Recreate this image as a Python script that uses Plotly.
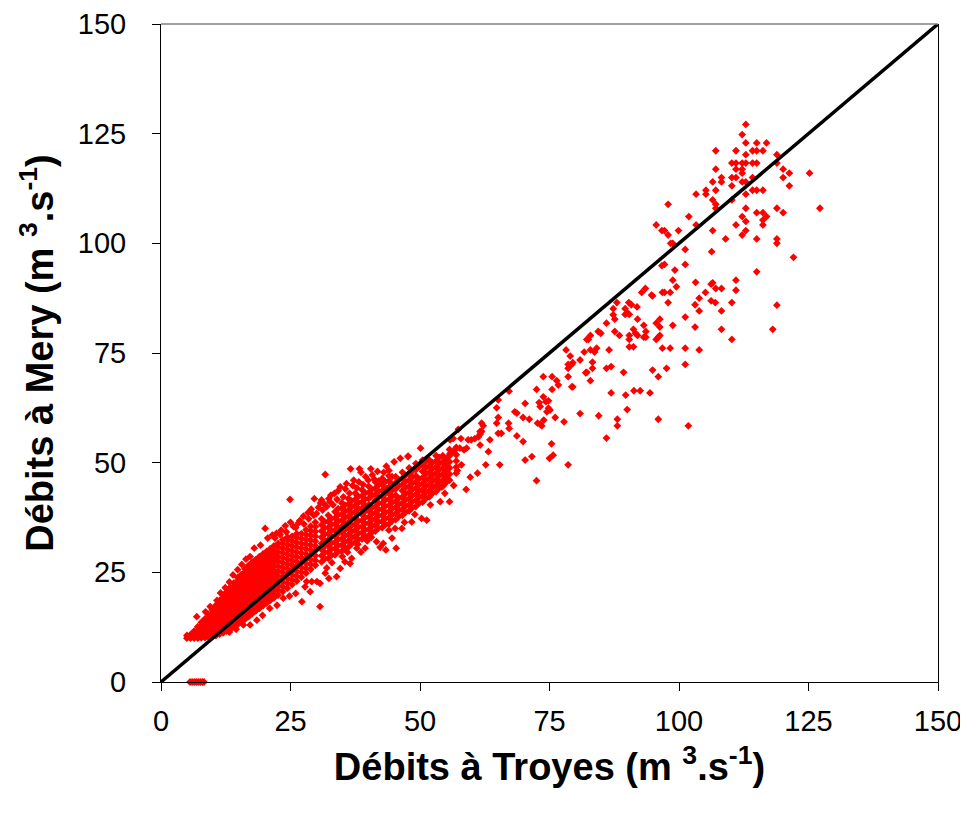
import plotly.graph_objects as go

# ---- data (m3/s) : (Troyes, Mery) ----
high_flows = [
    (112.9,127.1),(112.2,124.8),(112.9,122.9),(115.0,122.9),(116.9,122.9),(107.1,121.1),(111.0,121.1),
    (114.2,121.1),(115.0,121.1),(116.2,121.1),(118.9,120.2),(112.9,120.2),(110.2,118.3),(111.0,118.3),
    (112.2,118.3),(112.9,118.3),(114.2,118.3),(115.0,118.3),(118.9,118.3),(107.1,116.9),(111.0,116.9),
    (112.2,116.9),(120.1,116.9),(121.3,116.0),(125.2,116.0),(112.2,116.0),(108.2,115.0),(110.2,115.0),
    (111.0,115.0),(114.2,115.0),(120.1,115.0),(106.5,114.0),(108.2,114.0),(112.2,114.0),(112.9,114.0),
    (110.2,113.1),(121.3,113.1),(105.2,112.1),(107.1,112.1),(114.2,112.1),(115.0,112.1),(116.2,112.1),
    (103.3,111.2),(105.2,111.2),(112.9,111.2),(106.5,109.9),(110.2,109.9),(97.9,108.9),(107.1,108.9),
    (107.1,108.0),(112.9,108.0),(118.9,108.0),(127.2,108.0),(115.0,107.0),(116.2,107.0),(120.1,107.0),
    (116.9,106.1),(116.2,105.3),(116.2,104.2),(112.2,106.1),(101.9,106.1),(112.9,105.0),(95.6,104.2),
    (103.3,104.2),(111.0,104.2),(96.7,102.9),(97.2,102.9),(99.9,102.9),(106.5,102.9),(112.9,102.9),
    (97.9,101.9),(112.2,101.9),(109.0,101.0),(115.0,101.0),(118.9,101.0),(118.9,100.0),(98.4,100.0),
    (98.8,100.0),(101.2,98.6),(106.3,98.1),(122.1,96.8),(96.7,94.9),(97.2,95.2),(101.2,95.2),(99.2,93.9),
    (115.0,93.5),(98.8,91.6),(99.5,90.1),(103.2,91.1),(106.5,91.0),(107.1,89.7),(108.2,89.7),(111.0,91.6),
    (111.0,89.3),(93.5,89.7),(118.9,85.9),(118.1,80.4),
]

upper_mid_flows = [
    (106.2,90.7),(92.8,88.8),(94.7,88.2),(94.9,88.0),(96.8,88.8),(97.2,88.8),(98.3,88.8),(105.1,88.8),
    (103.9,87.5),(106.2,86.9),(107.0,86.5),(97.9,86.5),(103.1,86.0),(110.2,86.5),(88.0,86.5),(90.3,86.5),
    (90.8,86.0),(91.9,85.5),(87.3,85.1),(89.6,85.1),(90.0,84.2),(90.4,83.8),(89.6,83.8),(87.3,83.7),
    (87.6,82.7),(103.9,84.6),(108.2,84.6),(92.0,82.7),(86.0,81.8),(96.3,82.7),(95.6,81.8),(96.3,80.9),
    (93.2,81.3),(93.6,79.9),(98.8,81.3),(101.2,83.2),(103.1,80.9),(108.2,80.4),(110.2,78.1),(87.6,79.9),
    (88.5,79.0),(91.2,80.4),(91.6,79.5),(92.0,79.0),(90.4,79.0),(90.4,78.1),(90.4,76.4),(91.2,76.4),
    (93.2,78.6),(93.6,78.6),(95.6,78.1),(96.0,78.6),(96.3,79.0),(96.8,76.1),(98.3,76.1),(101.2,76.1),
    (103.9,75.7),(84.4,79.9),(84.9,79.5),(82.5,78.1),(82.9,79.0),(82.2,78.1),(86.5,75.7),(81.7,75.2),
    (82.9,75.7),(83.7,75.2),(84.1,76.1),(78.2,75.7),(79.0,74.3),(80.9,73.4),(83.3,72.9),(83.3,71.5),
    (78.6,72.4),(79.3,72.4),(78.6,71.5),(86.0,71.5),(86.9,71.9),(82.2,70.6),(89.3,70.6),(78.6,69.6),
    (82.9,68.7),(94.9,71.1),(97.6,71.5),(96.0,69.6),(101.2,72.4),(79.3,67.3),(86.9,65.9),(89.7,65.4),
    (91.3,66.4),(92.5,66.4),(94.4,65.9),(90.0,62.1),(80.9,61.2),(84.5,60.7),(77.8,59.3),(88.1,59.9),
    (88.1,58.4),(96.0,59.9),(101.8,58.4),(86.0,55.6),(78.6,49.5),
]

mid_flows = [
    (79.0,72.3),(79.5,72.8),(73.8,69.6),(75.5,69.6),(82.0,70.5),(76.4,68.7),(76.7,67.7),(75.5,66.7),
    (79.5,67.3),(72.5,66.7),(67.2,66.3),(73.8,65.0),(73.0,63.7),(73.2,62.8),(74.3,63.9),(74.8,62.4),
    (74.5,61.6),(75.1,62.0),(74.8,64.1),(70.3,63.5),(64.8,62.5),(65.1,64.3),(68.3,61.6),(68.7,61.3),
    (69.9,60.3),(71.1,59.9),(65.1,60.3),(64.8,59.0),(76.1,60.3),(73.9,59.7),(73.2,58.8),(72.7,59.0),
    (73.5,58.4),(67.1,59.0),(67.2,57.8),(61.9,59.0),(62.2,58.4),(65.1,56.7),(65.7,56.7),(68.7,56.1),
    (61.6,57.1),(61.3,55.9),(60.6,55.5),(59.9,55.2),(59.3,55.2),(63.5,55.2),(57.9,55.5),(56.4,55.5),
    (55.8,55.2),(57.4,57.6),(61.6,54.0),(69.9,54.8),(75.4,54.3),(75.7,51.7),(75.0,51.0),(63.2,52.5),
    (71.6,51.4),(70.3,50.6),(65.4,49.5),(62.7,49.5),(59.0,53.3),(58.5,52.9),(57.7,53.3),(57.0,53.5),
    (56.4,52.5),(55.8,52.1),(55.5,51.4),(55.2,50.6),(58.0,49.5),(57.2,48.2),(61.1,47.6),(59.7,46.7),
    (58.9,43.9),(72.5,45.9),(50.1,53.3),(47.7,51.4),(61.9,57.1),(61.6,56.5),
]

# dense band of low flows, read column by column: (Troyes, [Mery values])
low_flow_columns = [
    (5.0, [10.0, 10.6]),
    (5.7, [10.0, 10.8]),
    (6.4, [10.0, 10.9, 11.6]),
    (7.1, [10.0, 10.9, 11.8, 12.6]),
    (7.8, [10.1, 11.0, 11.9, 12.8, 13.6]),
    (8.5, [10.1, 11.0, 11.9, 12.8, 13.7, 14.4]),
    (9.2, [10.2, 11.1, 12.0, 12.9, 13.8, 14.7, 15.3]),
    (9.9, [10.4, 11.3, 12.2, 13.1, 14.0, 14.9, 15.8, 16.4]),
    (10.6, [10.6, 11.5, 12.4, 13.3, 14.2, 15.1, 16.0, 16.9, 17.5]),
    (11.3, [10.9, 11.8, 12.7, 13.6, 14.5, 15.4, 16.3, 17.2, 18.1, 18.6]),
    (12.0, [11.2, 12.1, 13.0, 13.9, 14.8, 15.7, 16.6, 17.5, 18.4, 19.3, 19.8]),
    (12.7, [11.6, 12.5, 13.4, 14.3, 15.2, 16.1, 17.0, 17.9, 18.8, 19.7, 20.6]),
    (13.4, [12.0, 12.9, 13.8, 14.7, 15.6, 16.5, 17.4, 18.3, 19.2, 20.1, 21.0, 21.6]),
    (14.1, [12.6, 13.5, 14.4, 15.3, 16.2, 17.1, 18.0, 18.9, 19.8, 20.7, 21.6, 22.6]),
    (14.8, [13.1, 14.0, 14.9, 15.8, 16.7, 17.6, 18.5, 19.4, 20.3, 21.2, 22.1, 23.0, 23.8]),
    (15.5, [13.7, 14.6, 15.5, 16.4, 17.3, 18.2, 19.1, 20.0, 20.9, 21.8, 22.7, 23.6, 24.5]),
    (16.2, [14.3, 15.2, 16.1, 17.0, 17.9, 18.8, 19.7, 20.6, 21.5, 22.4, 23.3, 24.2, 25.1, 25.8]),
    (16.9, [14.9, 15.8, 16.7, 17.6, 18.5, 19.4, 20.3, 21.2, 22.1, 23.0, 23.9, 24.8, 25.7, 26.6]),
    (17.6, [15.6, 16.5, 17.4, 18.3, 19.2, 20.1, 21.0, 21.9, 22.8, 23.7, 24.6, 25.5, 26.4, 27.3]),
    (18.3, [16.2, 17.1, 18.0, 18.9, 19.8, 20.7, 21.6, 22.5, 23.4, 24.3, 25.2, 26.1, 27.0, 27.9]),
    (19.0, [16.8, 17.7, 18.6, 19.5, 20.4, 21.3, 22.2, 23.1, 24.0, 24.9, 25.8, 26.7, 27.6, 28.6]),
    (19.7, [17.4, 18.3, 19.2, 20.1, 21.0, 21.9, 22.8, 23.7, 24.6, 25.5, 26.4, 27.3, 28.2, 29.2]),
    (20.4, [18.0, 18.9, 19.8, 20.7, 21.6, 22.5, 23.4, 24.3, 25.2, 26.1, 27.0, 27.9, 28.8, 29.8]),
    (21.1, [18.6, 19.5, 20.4, 21.3, 22.2, 23.1, 24.0, 24.9, 25.8, 26.7, 27.6, 28.5, 29.4, 30.4]),
    (21.8, [19.2, 20.1, 21.0, 21.9, 22.8, 23.7, 24.6, 25.5, 26.4, 27.3, 28.2, 29.1, 30.0, 31.0]),
    (22.6, [19.8, 20.9, 22.0, 23.1, 24.2, 25.3, 26.4, 27.5, 28.6, 29.7, 30.8, 31.6]),
    (23.5, [20.6, 21.7, 22.8, 23.9, 25.0, 26.1, 27.2, 28.3, 29.4, 30.5, 31.6, 32.4]),
    (24.4, [21.4, 22.5, 23.6, 24.7, 25.8, 26.9, 28.0, 29.1, 30.2, 31.3, 32.4, 33.0]),
    (25.3, [22.2, 23.3, 24.4, 25.5, 26.6, 27.7, 28.8, 29.9, 31.0, 32.1, 33.2]),
    (26.2, [23.0, 24.1, 25.2, 26.3, 27.4, 28.5, 29.6, 30.7, 31.8, 32.9, 33.8]),
    (27.1, [23.9, 25.0, 26.1, 27.2, 28.3, 29.4, 30.5, 31.6, 32.7, 33.8]),
    (28.0, [24.8, 25.9, 27.0, 28.1, 29.2, 30.3, 31.4, 32.5, 33.6, 34.7]),
    (28.9, [25.7, 26.8, 27.9, 29.0, 30.1, 31.2, 32.3, 33.4, 34.5, 35.5]),
    (29.8, [26.6, 27.7, 28.8, 29.9, 31.0, 32.1, 33.2, 34.3, 35.4, 36.4]),
    (31.0, [27.4, 28.8, 30.2, 31.6, 33.0, 34.4, 35.8, 37.2]),
    (31.6, [28.1, 29.5, 30.9, 32.3, 33.7, 35.1, 36.5]),
    (32.3, [28.2, 29.6, 31.0, 32.4, 33.8, 35.2, 36.6, 38.0]),
    (32.9, [28.9, 30.3, 31.7, 33.1, 34.5, 35.9, 37.3]),
    (33.6, [29.0, 30.4, 31.8, 33.2, 34.6, 36.0, 37.4, 38.8]),
    (34.2, [29.7, 31.1, 32.5, 33.9, 35.3, 36.7, 38.1, 39.5]),
    (34.9, [29.8, 31.2, 32.6, 34.0, 35.4, 36.8, 38.2, 39.6, 40.8]),
    (35.5, [30.5, 31.9, 33.3, 34.7, 36.1, 37.5, 38.9, 40.3]),
    (36.2, [30.8, 32.2, 33.6, 35.0, 36.4, 37.8, 39.2, 40.6, 41.8]),
    (36.8, [31.5, 32.9, 34.3, 35.7, 37.1, 38.5, 39.9, 41.3]),
    (37.5, [31.8, 33.2, 34.6, 36.0, 37.4, 38.8, 40.2, 41.6, 43.0]),
    (38.1, [32.5, 33.9, 35.3, 36.7, 39.5, 40.9, 42.3]),
    (38.8, [32.6, 34.0, 35.4, 36.8, 38.2, 39.6, 41.0, 42.4, 43.8]),
    (39.4, [33.3, 34.7, 36.1, 37.5, 38.9, 40.3, 41.7, 43.1]),
    (40.1, [33.4, 34.8, 36.2, 37.6, 39.0, 40.4, 41.8, 43.2, 44.6]),
    (40.7, [34.1, 35.5, 36.9, 38.3, 39.7, 42.5, 43.9]),
    (41.4, [34.4, 35.8, 37.2, 38.6, 40.0, 41.4, 42.8, 44.2, 45.6]),
    (42.0, [35.1, 36.5, 37.9, 39.3, 40.7, 42.1, 43.5, 44.9]),
    (42.7, [35.2, 36.6, 38.0, 39.4, 40.8, 42.2, 43.6, 45.0, 46.4]),
    (43.3, [35.9, 37.3, 38.7, 40.1, 41.5, 42.9, 44.3, 45.7]),
    (44.0, [36.0, 37.4, 38.8, 40.2, 41.6, 43.0, 44.4, 45.8, 47.0]),
    (44.6, [36.7, 38.1, 39.5, 40.9, 42.3, 43.7, 45.1]),
    (45.3, [37.0, 38.4, 39.8, 41.2, 42.6, 44.0, 45.4, 46.8]),
    (45.9, [37.7, 39.1, 40.5, 41.9, 44.7, 46.1]),
    (46.6, [38.0, 39.4, 40.8, 42.2, 43.6, 45.0, 46.4, 47.8]),
    (47.2, [38.7, 40.1, 41.5, 42.9, 44.3, 45.7, 47.1]),
    (47.9, [39.0, 40.4, 41.8, 43.2, 44.6, 46.0, 47.4, 48.8]),
    (48.5, [39.7, 41.1, 42.5, 43.9, 45.3, 46.7, 48.1]),
    (49.2, [40.0, 41.4, 42.8, 44.2, 45.6, 47.0, 48.4, 49.8]),
    (49.8, [40.7, 42.1, 43.5, 44.9, 46.3, 49.1]),
    (50.5, [41.0, 42.4, 43.8, 45.2, 46.6, 48.0, 49.4, 50.6]),
    (51.1, [41.8, 43.2, 44.6, 46.0, 47.4, 48.8, 50.2]),
    (51.8, [42.2, 43.6, 45.0, 46.4, 47.8, 49.2, 50.6]),
    (52.4, [43.0, 44.4, 45.8, 47.2, 48.6, 50.0]),
    (53.1, [43.4, 44.8, 46.2, 47.6, 49.0, 50.4, 51.6]),
    (53.7, [44.2, 45.6, 47.0, 48.4, 49.8, 51.2]),
    (54.4, [44.6, 46.0, 47.4, 48.8, 50.2, 51.6]),
    (55.0, [45.4, 46.8, 48.2, 49.6, 51.0]),
    (55.7, [46.0, 47.4, 48.8, 50.2, 51.6, 53.0]),
    (57.0, [47.6, 49.0, 50.4, 51.8, 53.2]),
]

band_fringe = [
    (6.9,14.9),(8.6,16.0),(9.5,17.2),(10.8,18.6),(11.5,20.3),(12.4,21.5),(13.2,22.8),(13.9,24.4),
    (14.8,25.6),(15.6,26.8),(16.4,28.0),(17.2,28.6),(18.0,30.5),(19.2,31.2),(20.1,35.0),(20.6,32.8),
    (21.5,33.5),(22.3,33.9),(23.2,34.6),(24.0,35.6),(25.6,35.4),(24.9,41.6),(26.5,36.2),(27.5,37.8),
    (28.4,38.6),(29.5,38.0),(30.4,39.8),(31.5,40.6),(32.4,41.8),(31.7,47.3),(33.5,43.0),(34.6,44.5),
    (35.8,45.2),(36.6,48.6),(38.3,48.6),(38.6,47.8),(40.5,48.6),(37.2,46.0),(39.5,46.8),(41.8,48.0),
    (43.5,49.2),(45.0,50.2),(47.7,51.5),(46.2,51.0),
    (22.0,32.8),(23.0,33.6),(24.2,34.2),(25.0,36.4),(26.0,35.2),(26.8,36.8),(27.6,36.0),(28.5,37.2),
    (29.0,39.4),(30.0,38.4),(30.8,40.8),(31.2,39.2),(32.0,40.0),(32.8,42.6),(33.2,40.4),(34.0,41.6),
    (34.2,43.6),(35.2,42.2),(35.6,44.0),(36.4,43.0),(37.0,44.8),(37.8,44.2),(38.2,45.6),(39.0,45.0),
    (40.0,46.0),(40.8,47.2),(41.2,46.2),(42.0,45.8),(43.0,47.8),(44.0,48.2),(44.6,46.8),(29.6,41.8),
    (28.8,38.8),(32.6,41.1),(31.0,41.5),
    (13.2,11.4),(14.5,12.0),(15.9,13.0),(17.2,13.0),(18.5,14.1),(19.6,15.2),(21.0,16.8),(22.4,17.5),
    (23.6,19.1),(24.8,19.6),(26.0,20.2),(27.2,18.3),(27.8,21.7),(28.8,20.6),(28.1,22.9),(29.1,22.9),
    (30.1,22.9),(30.7,17.2),(30.7,22.5),(31.7,24.8),(32.4,23.6),(33.9,24.0),(34.6,25.9),(35.5,27.4),
    (36.8,28.2),(37.8,30.5),(39.4,30.5),(41.6,32.0),(42.3,30.7),(42.9,31.6),(43.4,30.1),(45.2,35.0),
    (45.4,30.5),(46.5,35.0),(48.4,36.5),(50.3,37.3),(51.3,36.9),(53.9,41.1),(54.8,43.0),(55.7,41.1),
    (54.2,44.5),(52.4,47.2),
    (32.0,26.0),(33.0,27.2),(35.0,28.6),(36.0,29.6),(38.0,31.4),(39.8,32.2),(40.6,33.0),(44.0,34.6),
    (47.0,36.4),(49.0,38.2),(52.0,40.4),(56.5,44.8),(44.6,32.8),(36.5,27.0),(38.6,29.6),
]

zero_flows_troyes = [5.6, 6.0, 6.4, 6.8, 7.2, 7.6, 8.0, 8.3]
zero_flows_mery = [0, 0, 0, 0, 0, 0, 0, 0]

axis_ticks = [0, 25, 50, 75, 100, 125, 150]
identity_line = [0, 150]

# ---- assemble ----
troyes, mery = [], []
for pts in (high_flows, upper_mid_flows, mid_flows, band_fringe):
    for xv, yv in pts:
        troyes.append(xv)
        mery.append(yv)
for xv, ys in low_flow_columns:
    for yv in ys:
        troyes.append(xv)
        mery.append(yv)
troyes += zero_flows_troyes
mery += zero_flows_mery

FONT = "Arial, 'Liberation Sans', Helvetica, sans-serif"

fig = go.Figure()
fig.add_trace(go.Scatter(
    x=troyes, y=mery, mode="markers",
    marker=dict(symbol="diamond", size=6, color="#FF0000", line=dict(width=0)),
    cliponaxis=False, showlegend=False, hoverinfo="x+y",
))
fig.add_trace(go.Scatter(
    x=identity_line, y=identity_line, mode="lines",
    line=dict(color="black", width=3.5), cliponaxis=False,
    showlegend=False, hoverinfo="skip",
))

axis_common = dict(
    range=[0, 150], tickvals=axis_ticks, ticktext=[str(t) for t in axis_ticks],
    showgrid=False, zeroline=False, showline=True, linecolor="black", linewidth=1,
    ticks="outside", ticklen=8, tickwidth=1, tickcolor="black", automargin=False,
    tickfont=dict(family=FONT, size=29, color="black"),
)
fig.update_xaxes(**axis_common, ticklabelstandoff=5,
                 title=dict(text="<b>Débits à Troyes (m <sup>3</sup>.s<sup>-1</sup>)</b>",
                            font=dict(family=FONT, size=38, color="black"), standoff=17))
fig.update_yaxes(**axis_common, mirror=True, ticklabelstandoff=20,
                 title=dict(text="<b>Débits à Mery (m <sup>3</sup>.s<sup>-1</sup>)</b>",
                            font=dict(family=FONT, size=38, color="black"), standoff=12))

fig.add_shape(type="line", xref="paper", yref="paper", x0=0, x1=1, y0=1, y1=1,
              line=dict(color="#808080", width=1.5))

# the page adds an 8 px body margin, so the figure is sized to fit the window
fig.update_layout(
    width=960, height=806,
    margin=dict(l=153, r=30, t=16, b=132),
    paper_bgcolor="white", plot_bgcolor="white",
    font=dict(family=FONT, color="black"),
)

fig.write_html("out.html")
